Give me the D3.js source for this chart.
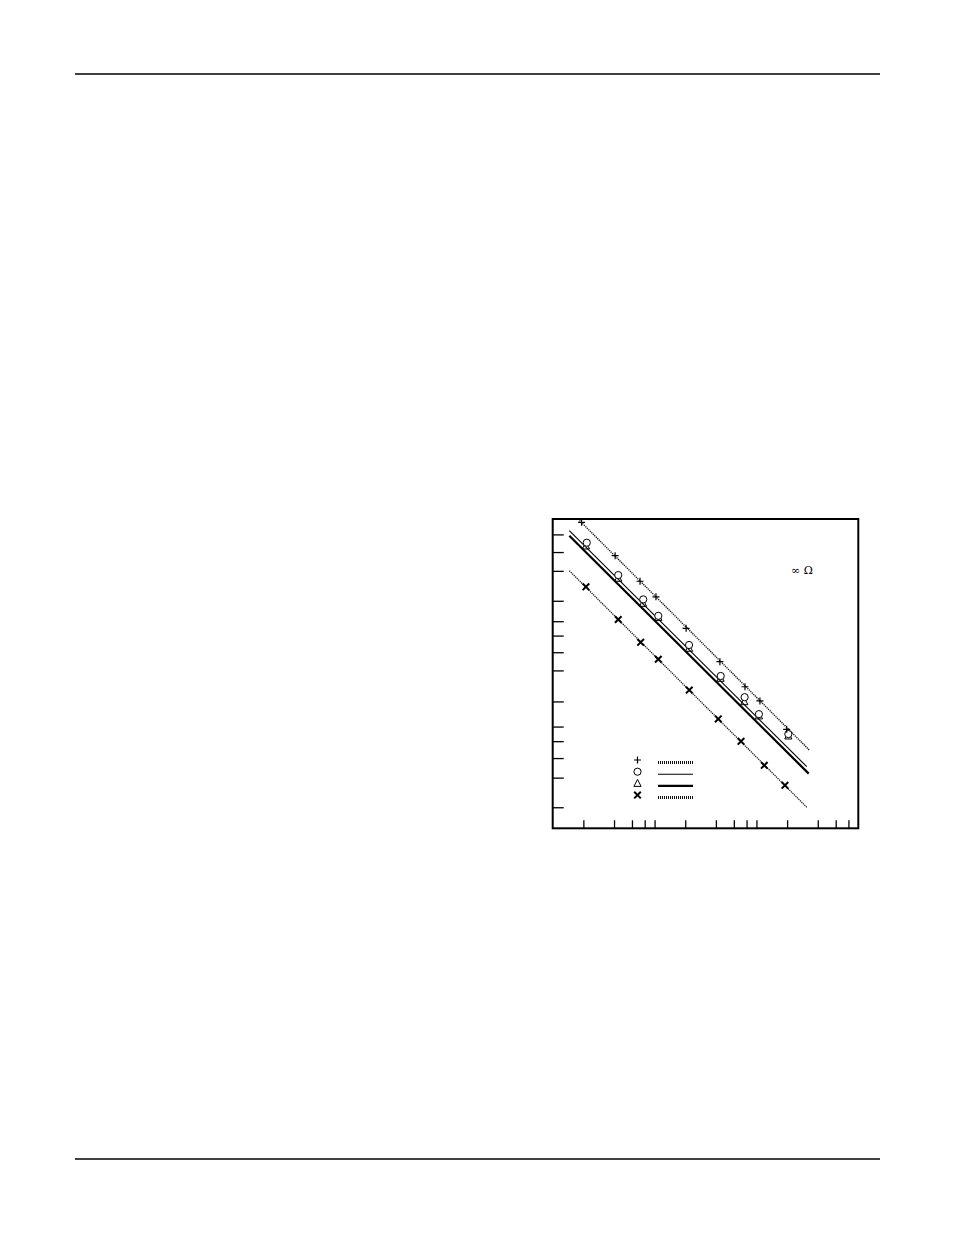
<!DOCTYPE html>
<html>
<head>
<meta charset="utf-8">
<script src="https://cdn.jsdelivr.net/npm/d3@7"></script>
<style>
    body { margin: 0; background: #fff; }
</style>
</head>
<body>
<div id="chartdiv"></div>
<script>
// data (log-log axes, no tick labels survive)
let x_ticks = [1, 2, 3, 4, 5, 10, 20, 30, 40, 50, 100, 200, 300, 400],
    y_ticks = [1.6, 3.1, 4.8, 7, 9.7, 17, 34, 51, 74, 102, 161, 314, 478, 709];

let plus_x = [0.96, 2.05, 3.6, 5.16, 10.2, 21.9, 38.6, 54.1, 99.1],
    plus_y = [929, 441, 249, 176, 87.1, 41.3, 23.6, 17.2, 9.13];
let circ_x = [1.08, 2.2, 3.87, 5.44, 10.9, 22.3, 38.3, 52.9, 102.8],
    circ_y = [589, 286, 166, 115, 60, 30, 18.7, 12.8, 8.2];
let tri_x = [1.06, 2.2, 3.85, 5.44, 10.9, 22.2, 38, 52.9, 102.8],
    tri_y = [547, 266, 152, 111, 55.7, 28.5, 16.9, 12.3, 7.86];
let cross_x = [1.06, 2.2, 3.65, 5.44, 10.96, 21.1, 35.3, 59.7, 95.3],
    cross_y = [220, 106, 63.7, 43.6, 21.9, 11.5, 6.98, 4.08, 2.61];

// fitted lines, end points
let fit_plus = [[0.916, 967], [165, 5.75]],
    fit_circ = [[0.728, 770], [156, 3.96]],
    fit_tri = [[0.728, 689], [163, 3.39]],
    fit_cross = [[0.728, 315], [158, 1.58]];

let legend_items = ["plus", "circ", "tri", "cross"];

// draw
{
    let page_w = 954,
        page_h = 1235,
        box = { left: 552.7, right: 858.3, top: 519, bottom: 828.3 };

    let svg = d3.select("#chartdiv").append("svg")
        .attr("width", page_w)
        .attr("height", page_h);

    // page header / footer rules
    svg.append("line")
        .attr("x1", 75).attr("x2", 880)
        .attr("y1", 74).attr("y2", 74)
        .attr("stroke", "black").attr("stroke-width", 1.5);
    svg.append("line")
        .attr("x1", 75).attr("x2", 880)
        .attr("y1", 1159).attr("y2", 1159)
        .attr("stroke", "black").attr("stroke-width", 1.5);

    let x = d3.scaleLog()
        .domain([0.5, 500])
        .range([box.left, box.right]);
    let y = d3.scaleLog()
        .domain([1, 1000])
        .range([box.bottom, box.top]);

    // axes: inward ticks, no labels
    let xAxis = d3.axisTop(x)
        .tickValues(x_ticks)
        .tickSize(8)
        .tickFormat("");
    let yAxis = d3.axisRight(y)
        .tickValues(y_ticks)
        .tickSize(11)
        .tickFormat("");
    svg.append("g")
        .attr("class", "axis")
        .attr("transform", "translate(0," + box.bottom + ")")
        .call(xAxis);
    svg.append("g")
        .attr("class", "axis")
        .attr("transform", "translate(" + box.left + ",0)")
        .call(yAxis);
    svg.selectAll(".axis .domain").remove();
    svg.selectAll(".axis line")
        .attr("stroke", "black")
        .attr("stroke-width", 1.3);

    svg.append("rect")
        .attr("x", box.left)
        .attr("y", box.top)
        .attr("width", box.right - box.left)
        .attr("height", box.bottom - box.top)
        .attr("fill", "none")
        .attr("stroke", "black")
        .attr("stroke-width", 2);

    let line = d3.line()
        .x(function(d) { return x(d[0]); })
        .y(function(d) { return y(d[1]); });

    let styles = {
        plus: { width: 1.4, dash: "1.2,0.9", color: "#111" },
        circ: { width: 1.1, dash: null, color: "black" },
        tri: { width: 2.2, dash: null, color: "black" },
        cross: { width: 1.3, dash: "1.2,0.9", color: "#111" }
    };

    let fits = [["plus", fit_plus], ["circ", fit_circ], ["tri", fit_tri], ["cross", fit_cross]];
    fits.forEach(function(f) {
        let st = styles[f[0]];
        svg.append("path")
            .attr("d", line(f[1]))
            .attr("fill", "none")
            .attr("stroke", st.color)
            .attr("stroke-width", st.width)
            .attr("stroke-dasharray", st.dash);
    });

    // marker drawers
    function drawPlus(g, cx, cy) {
        g.append("path")
            .attr("d", "M" + (cx - 3.5) + "," + cy + "H" + (cx + 3.5) + "M" + cx + "," + (cy - 3.5) + "V" + (cy + 3.5))
            .attr("stroke", "black").attr("stroke-width", 1.2).attr("fill", "none");
    }
    function drawCirc(g, cx, cy) {
        g.append("circle")
            .attr("cx", cx).attr("cy", cy).attr("r", 3.6)
            .attr("fill", "white").attr("stroke", "black").attr("stroke-width", 1);
    }
    function drawTri(g, cx, cy) {
        g.append("path")
            .attr("d", "M" + cx + "," + (cy - 4) + "L" + (cx + 3.6) + "," + (cy + 3) + "L" + (cx - 3.6) + "," + (cy + 3) + "Z")
            .attr("fill", "none").attr("stroke", "black").attr("stroke-width", 1);
    }
    function drawCross(g, cx, cy) {
        g.append("path")
            .attr("d", "M" + (cx - 3.3) + "," + (cy - 3.3) + "L" + (cx + 3.3) + "," + (cy + 3.3) +
                "M" + (cx + 3.3) + "," + (cy - 3.3) + "L" + (cx - 3.3) + "," + (cy + 3.3))
            .attr("stroke", "black").attr("stroke-width", 2).attr("fill", "none");
    }
    let drawers = { plus: drawPlus, circ: drawCirc, tri: drawTri, cross: drawCross };

    let series = [["tri", tri_x, tri_y], ["circ", circ_x, circ_y], ["plus", plus_x, plus_y], ["cross", cross_x, cross_y]];
    let marks = svg.append("g");
    series.forEach(function(s) {
        for (let i = 0; i < s[1].length; ++i)
            drawers[s[0]](marks, x(s[1][i]), y(s[2][i]));
    });

    // label inside the plot
    svg.append("text")
        .attr("x", 791)
        .attr("y", 574)
        .attr("font-family", "DejaVu Serif, serif")
        .attr("font-size", 11)
        .attr("fill", "black")
        .text("∞ Ω");

    // legend
    {
        let lg_x = 637.5,
            lg_y = 760,
            row_h = 11.7,
            line_x1 = 658,
            line_x2 = 693;
        let lg = svg.append("g");
        legend_items.forEach(function(k, i) {
            let cy = lg_y + i * row_h;
            drawers[k](lg, lg_x, cy);
            let st = styles[k];
            lg.append("line")
                .attr("x1", line_x1).attr("x2", line_x2)
                .attr("y1", cy + 2.5).attr("y2", cy + 2.5)
                .attr("stroke", st.color)
                .attr("stroke-width", st.dash ? 3 : st.width)
                .attr("stroke-dasharray", st.dash ? "1,1" : null);
        });
    }
}
</script>
</body>
</html>
